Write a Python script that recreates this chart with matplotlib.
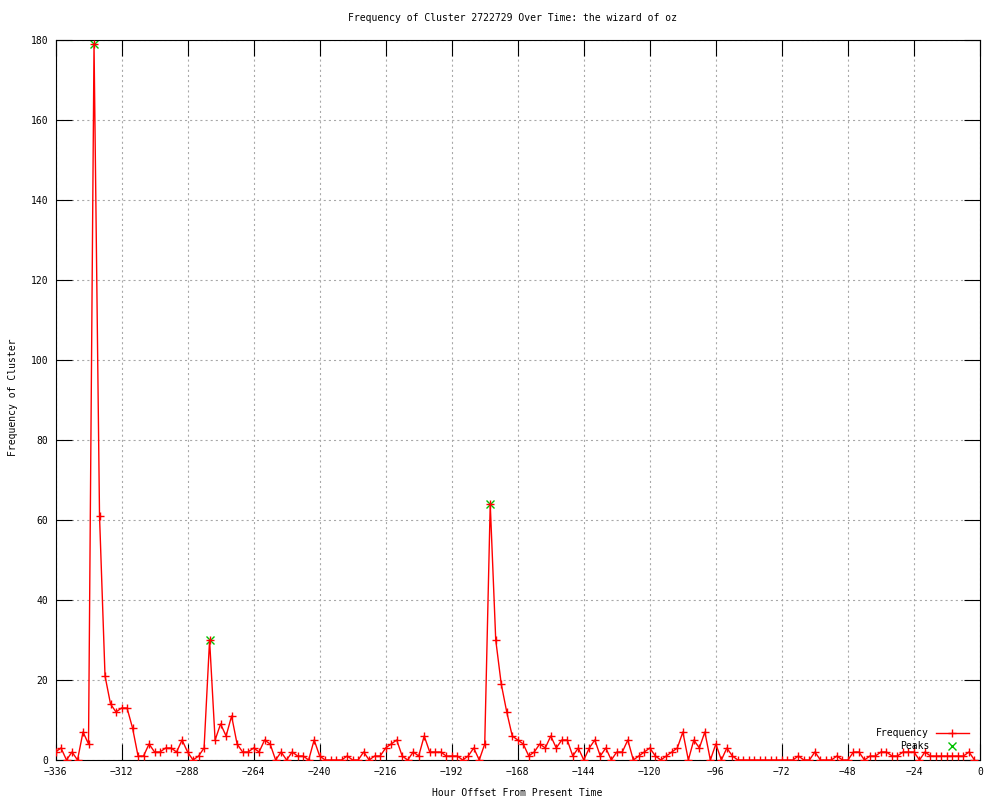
import numpy as np
import matplotlib
matplotlib.use("Agg")
import matplotlib.pyplot as plt
from matplotlib.lines import Line2D

plt.rcParams['font.family'] = ['DejaVu Sans Mono']
plt.rcParams['lines.scale_dashes'] = False

# ---- data ----
freq = [
    2, 3, 0, 2, 0, 7, 4, 179, 61, 21,          # -336 .. -318
    14, 12, 13, 13, 8, 1, 1, 4, 2, 2,          # -316 .. -298
    3, 3, 2, 5, 2, 0, 1, 3, 30, 5,             # -296 .. -278
    9, 6, 11, 4, 2, 2, 3, 2, 5, 4,             # -276 .. -258
    0, 2, 0, 2, 1, 1, 0, 5, 1, 0,              # -256 .. -238
    0, 0, 0, 1, 0, 0, 2, 0, 1, 1,              # -236 .. -218
    3, 4, 5, 1, 0, 2, 1, 6, 2, 2,              # -216 .. -198
    2, 1, 1, 1, 0, 1, 3, 0, 4, 64,             # -196 .. -178
    30, 19, 12, 6, 5, 4, 1, 2, 4, 3,           # -176 .. -158
    6, 3, 5, 5, 1, 3, 0, 3, 5, 1,              # -156 .. -138
    3, 0, 2, 2, 5, 0, 1, 2, 3, 1,              # -136 .. -118
    0, 1, 2, 3, 7, 0, 5, 3, 7, 0,              # -116 .. -98
    4, 0, 3, 1, 0,                             # -96 .. -88
    0, 0, 0, 0, 0, 0, 0, 0, 0, 0,              # -86 .. -68
    1, 0, 0, 2, 0, 0, 0, 1, 0, 0,              # -66 .. -48
    2, 2, 0, 1, 1, 2, 2, 1, 1, 2,              # -46 .. -28
    2, 2, 0, 2,                                # -26 .. -20
    1, 1, 1, 1, 1, 1, 1,                       # -18 .. -6
    2, 0,                                      # -4 .. -2
]
hours = list(range(-336, -336 + 2 * len(freq), 2))

peak_hours = [-322, -280, -178]
peak_vals = [179, 30, 64]

x_ticks = list(range(-336, 1, 24))
y_ticks = list(range(0, 181, 20))

title = "Frequency of Cluster 2722729 Over Time: the wizard of oz"
xlabel = "Hour Offset From Present Time"
ylabel = "Frequency of Cluster"

FS = 7.0

# ---- figure ----
fig = plt.figure(figsize=(10, 8), dpi=100)
ax = fig.add_axes([0.0555, 0.05, 0.9245, 0.9])

ax.plot(peak_hours, peak_vals, linestyle='none', marker='x', color='#00c000',
        ms=5.5, mew=1.0, zorder=2)
ax.plot(hours, freq, color='red', lw=1.0, marker='+', ms=6, mew=1.0, zorder=3)

ax.set_xlim(-336, 0)
ax.set_ylim(0, 180)
ax.set_xticks(x_ticks)
ax.set_yticks(y_ticks)
ax.grid(True, color='#a8a8a8', linestyle=(0, (1.5, 2.2)), linewidth=0.8, zorder=0)
ax.set_axisbelow(True)

for s in ax.spines.values():
    s.set_linewidth(0.8)
    s.set_color('black')

ax.tick_params(direction='in', length=11.5, width=0.8, top=True, right=True,
               labelsize=FS, colors='black')
ax.tick_params(axis='x', pad=5)
ax.tick_params(axis='y', pad=5)

fig.text(0.5125, 1 - 18 / 800, title, ha='center', va='center', fontsize=FS)
fig.text(0.5175, 1 - 793 / 800, xlabel, ha='center', va='center', fontsize=FS)
fig.text(0.0135, 1 - 397 / 800, ylabel, ha='center', va='center', fontsize=FS,
         rotation=90)

h1 = Line2D([], [], color='red', lw=1.0, marker='+', ms=6, mew=1.0)
h2 = Line2D([], [], color='#00c000', linestyle='none', marker='x', ms=5.5, mew=1.0)
ax.legend([h1, h2], ['Frequency', 'Peaks'], loc='lower right',
          bbox_to_anchor=(0.988, 0.012), borderaxespad=0, borderpad=0,
          frameon=False, markerfirst=False, numpoints=1, handlelength=3.4,
          handletextpad=0.7, labelspacing=0.35, fontsize=FS)

fig.savefig('out.png', dpi=100)
